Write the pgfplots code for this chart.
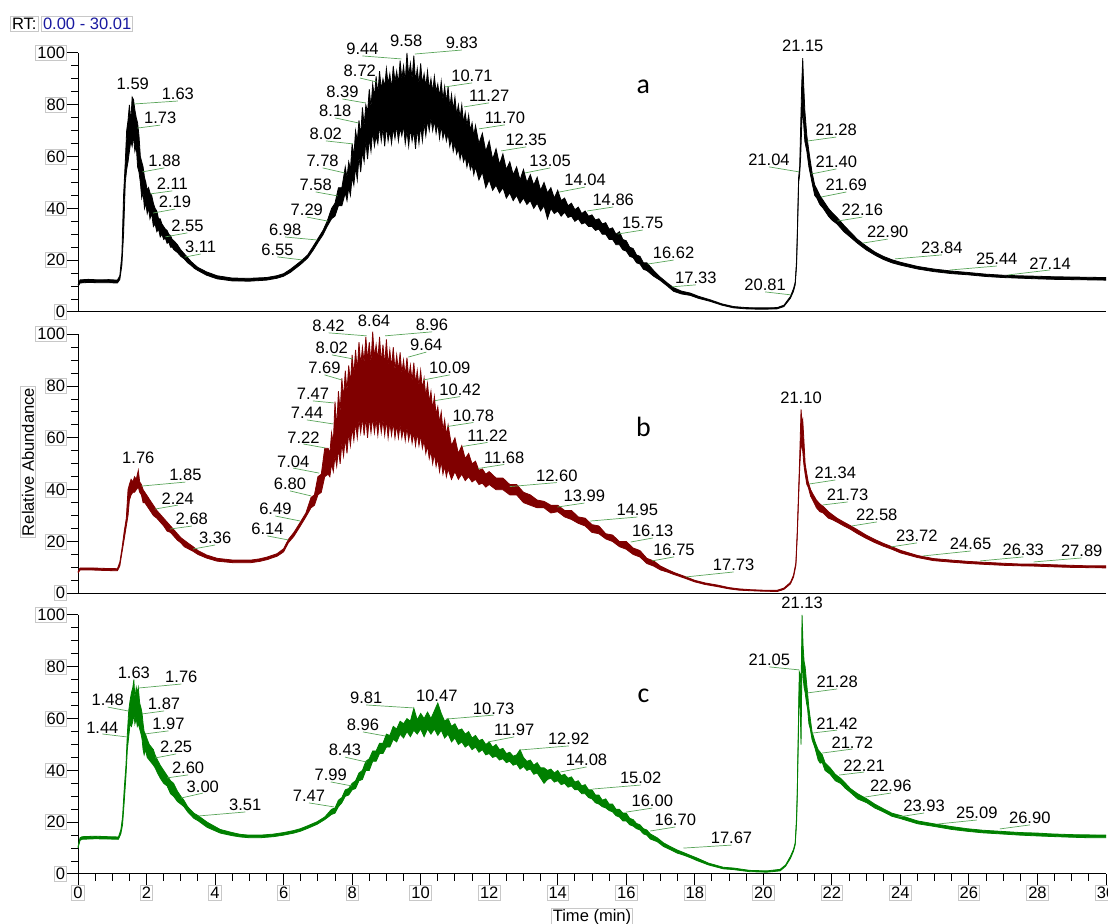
\documentclass[border=0pt]{standalone}
\usepackage{fontspec}
\setmainfont{Liberation Sans}
\newfontfamily\calibri{Carlito}
\usepackage{pgfplots}
\pgfplotsset{compat=1.18}
\usepackage{pgfplotstable}
\usepgfplotslibrary{fillbetween}

\definecolor{maroonc}{RGB}{128,0,0}
\definecolor{greenc}{RGB}{0,128,0}
\definecolor{leadc}{RGB}{90,165,90}
\definecolor{boxc}{RGB}{200,200,200}
\definecolor{rtblue}{RGB}{25,25,160}

\newcommand{\fs}{\fontsize{8.3}{9.5}\selectfont}
\tikzset{
 leader/.style={draw=leadc, line width=0.35bp},
 lbl/.style={anchor=south, inner sep=0.3bp, font=\fs, text=black},
}
\newcommand{\pk}[4]{\draw[leader] (axis cs:#1,#2) -- ++(#3bp,#4bp) node[lbl]{#1};}
\newcommand{\tp}[3]{\node[lbl] at (axis cs:#1,#2) {#3};}

\pgfplotsset{
 chrom/.style={
  scale only axis, width=514bp, height=129.5bp,
  xmin=0, xmax=30, ymin=0, ymax=100,
  axis x line*=bottom, axis y line*=left,
  axis line style={line width=0.5bp, black},
  ytick={0,20,40,60,80,100}, minor y tick num=3,
  tick align=outside,
  major tick length=5.5bp, minor tick length=3.3bp,
  tick style={line width=0.5bp, black},
  every tick label/.append style={font=\fs, draw=boxc, line width=0.4bp, inner sep=0.8bp, fill=white},
  /pgf/number format/assume math mode=true,
  clip=false,
 },
}

\pgfplotstableread{
x hi lo
0.00 10.4 9.8
0.06 12.4 11.2
0.3 12.6 11.4
0.6 12.4 11.3
0.9 12.5 11.3
1.15 12.3 11.2
1.22 14 12.5
1.28 22 18
1.33 45 30
1.38 58 50
1.42 70 55
1.46 74 58
1.50 80 62
1.54 73 66
1.58 83 64
1.62 82 68
1.66 78 62
1.70 75 64
1.74 73 56
1.78 68 54
1.82 60 50
1.86 58 44
1.90 56 46
1.94 52 40
1.98 50 42
2.02 47 38
2.06 48 40
2.10 46 36
2.15 45 38
2.20 42 33
2.25 40 34
2.30 39 31
2.35 36 32
2.40 36 29
2.45 34 30
2.50 33 28
2.55 32 28.5
2.60 31.5 26.5
2.65 30 27
2.70 29.5 25
2.75 28 25
2.8 27.5 24
2.9 26 23
3.0 24 21.5
3.1 22.5 20.5
3.2 21 19
3.3 19.5 18
3.4 18.3 16.8
3.5 17.2 16
3.75 15.5 14.2
4.06 14 12.8
4.5 13.1 12
5.0 13 11.9
5.5 13.3 12.3
5.8 14 13
6.0 14.8 13.8
6.2 16.5 15.3
6.5 19.6 18.4
6.7 22 20.8
6.87 25.5 24
7.0 28.3 26.8
7.15 31.5 29.8
7.27 35 33
7.4 40 36
7.5 42 37
7.6 48 41
7.7 48 41
7.80 56 46
7.85 52 43
7.90 58 48
7.95 55 45
8.00 65 52
8.05 60 49
8.10 70 56
8.15 66 51
8.20 74 60
8.25 68 54
8.30 79 62
8.35 72 58
8.40 80 66
8.45 77 59
8.50 86 67
8.55 79 62
8.60 88 70
8.65 83 64
8.70 91 68
8.75 84 65
8.80 93 72
8.85 86 66
8.90 90 71
8.95 87 64
9.00 94 72
9.05 88 66
9.10 92 70
9.15 86 65
9.20 95 71
9.25 89 67
9.30 93 72
9.35 88 66
9.40 97 71
9.45 90 68
9.50 95 72
9.55 89 65
9.60 100 70
9.65 91 64
9.70 96 71
9.75 90 66
9.80 99 70
9.85 89 63
9.90 94 71
9.95 88 65
10.00 96 72
10.05 88 66
10.10 92 73
10.15 87 68
10.20 93 74
10.25 86 70
10.30 90 75
10.35 85 70
10.40 91 74
10.45 85 69
10.50 88 73
10.55 83 67
10.60 89 72
10.65 82 67
10.70 87 70
10.75 81 66
10.80 87 69
10.85 79 64
10.90 84 67
10.95 78 62
11.00 83 65
11.05 76 61
11.10 80 63
11.15 75 59
11.20 80 62
11.25 73 58
11.30 77 60
11.35 72 56
11.40 76 59
11.45 70 55
11.50 73 57
11.55 68 53
11.60 72 56
11.7 65 51
11.8 69 54
11.9 62 48
12.0 66 51
12.1 59 47
12.2 63 49
12.3 57 46
12.4 61 48
12.5 55 44
12.6 58 46
12.7 53 43
12.8 56 45
12.9 51 42
13.0 55 44
13.1 50 41.5
13.2 53 43
13.3 49 40
13.4 52 42
13.5 47 39
13.6 50 41
13.7 46 36
13.8 48 40
13.9 44 38
14.0 47 39
14.1 43 37
14.2 44 38.5
14.3 41 36.5
14.4 42 37
14.5 39.5 35
14.6 40.5 36
14.7 38 34
14.8 39 34.5
14.9 37 33
15.0 37.5 33
15.1 35.5 31.5
15.2 36 32
15.3 34 30
15.4 34.5 30
15.5 32 28
15.6 32.5 28
15.7 30 26
15.8 31 26
15.9 28 24
16.0 27.5 23.5
16.1 25 21.5
16.2 24.5 21
16.3 22 19
16.4 21.5 18.5
16.5 19 16.5
16.6 19 16
16.8 16 13.8
16.99 13.5 12.2
17.2 11.2 10
17.38 9.4 8
17.6 8.1 7
17.87 7.3 6.4
18.1 6.1 5.3
18.45 4.7 4.1
18.8 3.1 2.6
19.13 2.1 1.6
19.5 1.7 1.2
19.8 1.6 1.1
20.1 1.6 1.1
20.4 1.7 1.2
20.6 2.6 2.1
20.79 6 5.3
20.88 9 8
20.93 11.5 10.5
20.97 20 18
21.0 35 33
21.03 52 50
21.06 56 53
21.09 72 60
21.12 88 72
21.15 98 80
21.17 90 74
21.21 78 66
21.27 68 62
21.33 62 56
21.42 54 50
21.5 49 45
21.56 47.5 44
21.65 45 41.5
21.75 43 40
21.9 40 37
22.0 38.5 35.5
22.15 36.5 34
22.35 33.5 31
22.53 31 29
22.75 28 26.5
23.0 25.5 24
23.25 23.2 22
23.5 21.5 20.3
23.75 20.2 19
24.0 19.2 18.1
24.5 17.6 16.6
24.97 16.6 15.6
25.5 15.8 14.8
25.94 15.3 14.4
26.5 14.6 13.7
27.0 14.2 13.3
27.4 14 13.1
28.0 13.8 12.8
28.5 13.6 12.6
29.0 13.5 12.5
29.5 13.4 12.4
30.0 13.3 12.3
}\tabA

\pgfplotstableread{
x hi lo
0 8.3 7.8
0.06 9.8 9
0.4 9.8 9
0.8 9.6 8.8
1.15 9.5 8.7
1.22 12 10.5
1.28 17 15.5
1.35 24 21
1.41 29 26
1.46 40 30
1.50 42 36
1.55 44 38
1.60 43 39
1.65 45 39
1.70 44 40
1.76 47.5 41
1.80 43 39
1.85 42 38
1.90 40 35
1.95 39 35
2.0 38 34
2.1 36 32
2.2 34 30
2.3 32 29
2.4 30.5 27.5
2.5 29 26
2.6 27.5 24
2.7 26 23.5
2.8 24.5 22
2.9 23 20.5
3.0 21.5 19.5
3.1 20.5 18
3.2 19.5 17.3
3.36 18 16.2
3.5 16.5 15
3.75 14.8 13.6
4.06 13.5 12.4
4.54 12.8 11.8
5.03 12.8 11.8
5.3 13.3 12.3
5.52 14 13
5.81 15.3 14.3
6.0 17.2 16
6.14 20.8 19.5
6.3 23.5 22
6.49 27.5 26
6.65 31 29.5
6.8 37 33
6.9 38 34
7.0 45 38
7.1 46 39
7.2 56 45
7.30 56 46
7.35 54 45
7.40 62 50
7.45 58 47
7.50 74 53
7.55 64 49
7.60 78 56
7.65 70 50
7.70 83 58
7.75 75 53
7.80 86 60
7.85 78 54
7.90 88 62
7.95 81 57
8.00 92 64
8.05 84 59
8.10 94 66
8.15 86 60
8.20 97 67
8.25 88 62
8.30 95 68
8.35 89 61
8.40 99 68
8.45 90 60
8.50 97 68
8.55 89 62
8.60 101 68
8.65 91 62
8.70 96 67
8.75 90 61
8.80 99 68
8.85 89 62
8.90 96 67
8.95 88 61
9.00 98 67
9.05 88 60
9.10 94 66
9.15 87 61
9.20 95 66
9.25 86 60
9.30 92 65
9.35 86 60
9.40 93 65
9.45 85 60
9.50 90 64
9.55 84 59
9.60 91 64
9.65 83 59
9.70 88 63
9.75 82 58
9.80 89 62
9.85 81 57
9.90 86 62
9.95 80 57
10.00 86 61
10.05 79 56
10.10 83 59
10.15 76 54
10.20 81 57
10.25 74 52
10.30 78 55
10.35 71 50
10.40 76 54
10.45 69 49
10.50 72 52
10.55 66 47
10.60 70 51
10.65 63 46
10.70 67 49
10.75 61 45
10.80 65 48
10.9 57 44
11.0 60 47
11.1 54 44
11.2 57 46
11.3 52 43.5
11.4 54 45
11.5 50 43
11.6 51 44
11.7 47.5 42
11.8 48 42.5
11.9 46 41
12.0 47 42
12.2 44.5 40
12.4 44.5 40
12.6 42 38
12.8 42 38
13.0 39 35
13.2 38 34
13.4 36 33
13.6 35.5 33
13.8 34 31
14.0 34 31.5
14.2 32 29.5
14.4 32 28.5
14.6 29.5 27
14.8 29 26
15.0 26.5 23.5
15.2 26 23
15.4 23 21
15.6 22.5 20
15.8 20 18
16.0 20 17
16.2 17.5 15
16.4 16.5 14
16.6 13.5 11.5
16.8 12.5 10.5
17.0 10.5 9
17.2 9.2 8.2
17.4 8 7.2
17.67 6.7 6
18.0 5 4.4
18.3 4 3.4
18.65 3.2 2.6
19.0 2.2 1.7
19.3 1.7 1.2
19.62 1.4 1.0
20.0 1.2 0.8
20.41 1.2 0.7
20.6 2 1.5
20.79 4.2 3.6
20.88 7 6.2
20.95 11.8 10.8
20.99 24 22
21.03 40 37
21.06 52 48
21.1 71 58
21.13 66 56
21.15 67 55
21.18 60 50
21.22 50 46
21.27 46 42
21.31 43 41
21.38 40 37.5
21.46 38 35.5
21.55 36 33
21.65 34.5 31.5
21.75 33.5 31
21.9 31.5 29
22.0 30.5 28.5
22.15 29 27.5
22.35 27.5 26
22.53 26.2 24.8
22.75 24.5 23
23.0 22.5 21.2
23.25 20.8 19.6
23.5 19.3 18.2
23.75 18 17
24.0 16.6 15.6
24.5 14.6 13.8
24.97 13.4 12.6
25.5 12.8 12
26.0 12.3 11.5
26.4 12 11.2
27.0 11.6 10.8
27.5 11.3 10.6
27.9 11.3 10.5
28.5 11 10.2
29.0 10.8 10
29.5 10.6 9.9
30.0 10.6 9.8
}\tabB

\pgfplotstableread{
x hi lo
0 10.5 10
0.06 14 13
0.12 14.4 13.4
0.5 14.6 13.6
0.9 14.4 13.5
1.18 14.3 13.4
1.25 17 15.5
1.3 22 19
1.35 33 28
1.40 42 38
1.44 54 48
1.48 63 53
1.52 67 58
1.56 70 57
1.60 72 59
1.63 75 62
1.66 68 58
1.70 72 60
1.73 70 57
1.76 72 58
1.80 66 56
1.84 64 54
1.87 62 52
1.90 58 48
1.93 55 46
1.97 54 48
2.02 52 45
2.08 50 44
2.14 49 43
2.2 48 42
2.25 46 41
2.32 44 39
2.4 42 37
2.5 40 35
2.6 38 34
2.7 36 31
2.79 35 30
2.9 32 28
3.0 30 27
3.09 28.5 26
3.2 26 24
3.38 23.5 21.5
3.51 22.5 20.5
3.77 20 18
4.15 17.2 15.8
4.5 16 14.8
4.74 15.3 14.3
5.0 15 14
5.32 15 14
5.7 15.4 14.4
6.0 16 15
6.3 16.8 15.8
6.49 17.5 16.5
6.7 18.6 17.6
6.98 20.2 19.2
7.2 22 21
7.4 25 23
7.5 25.5 23.5
7.6 28.5 26
7.7 29.5 27.5
7.8 32.5 30
7.9 33 30.5
8.0 35 32.5
8.1 36 33
8.2 39 36
8.3 40 36.5
8.4 43.5 40
8.5 44.5 40
8.6 47.5 43.5
8.7 47.5 43.5
8.8 50.5 46.5
8.9 50.5 46.5
9.0 54 49
9.1 53.5 49
9.2 57 52
9.3 56 51
9.4 59 54
9.5 58 52.5
9.6 60 55
9.7 59 53
9.8 64 55.5
9.9 59.5 54
10.0 62 56
10.1 60 53
10.2 62.5 56
10.3 60 54
10.4 63 56
10.5 66 53.5
10.6 62 55.5
10.7 59 52.5
10.8 60 54
10.9 57 51
11.0 58 52.5
11.1 55.5 50
11.2 56 51
11.3 54 49
11.4 55 50
11.5 52.5 48
11.6 53.5 49
11.7 51.5 47
11.8 52 48
11.9 50 46
12.0 51 46.5
12.1 49 45
12.2 50 45.5
12.3 48 44
12.4 48.5 44.5
12.5 46.5 43
12.6 47 43.5
12.7 45.5 42
12.8 46 42.5
12.9 48 40.5
13.0 45 41.5
13.1 43.5 40
13.2 44 40.5
13.3 42 38.5
13.4 43 39
13.5 41 37
13.6 41 35
13.7 40 36.5
13.8 40.5 37
13.9 39 35.5
14.0 40 36
14.1 38 34.5
14.2 38.5 35
14.3 37 33.5
14.4 37.5 34
14.5 35.5 32.5
14.6 36 32.5
14.7 34 31
14.8 34.5 31
14.9 32.5 29.5
15.0 32.5 29
15.1 30.5 27.5
15.2 30.5 27
15.3 28.5 26
15.4 29 25.5
15.5 27 24.5
15.6 27 24
15.7 25 22.5
15.8 25 22
15.9 23.5 20.5
16.0 23.5 20.5
16.1 21.5 19
16.2 21 18.5
16.3 19.5 17.5
16.4 19 17
16.5 17.5 15.5
16.6 17 15
16.7 15.5 13.5
16.9 14 12.5
17.09 12 10.6
17.3 10.5 9.3
17.48 9.3 8.1
17.67 8.3 7.3
17.87 7.2 6.3
18.06 6.2 5.2
18.4 4.2 3.5
18.83 2.6 2
19.13 2.3 1.7
19.6 1.4 0.9
20.1 1.2 0.7
20.49 1.8 1.2
20.65 3.5 3
20.79 6.8 6
20.88 9.5 8.8
20.93 12 11.3
20.97 22 20
20.99 32 30
21.02 55 52
21.05 78 74
21.08 77 62
21.10 70 50
21.13 100 85
21.16 88 76
21.19 82 72
21.22 80 70
21.26 74 66
21.29 70 64
21.33 64 58
21.37 60 56
21.42 55 52
21.51 51 48.5
21.6 48 44
21.66 47 42.8
21.72 46 43
21.8 43 40
21.95 41 38.5
22.1 38.5 36
22.25 37 35
22.4 35 33
22.54 33 31.5
22.75 31 29
23.02 29 27.5
23.25 27 25.5
23.5 25.2 24
23.75 23.5 22.3
24.0 22.6 21.4
24.5 20.5 19.4
24.97 19.4 18.4
25.5 18.3 17.2
25.94 17.5 16.5
26.4 16.9 15.9
26.9 16.5 15.5
27.5 16 15
28.0 15.8 14.7
28.37 15.5 14.5
29.0 15.2 14.2
29.5 15.1 14
30.0 15 14
}\tabC

\begin{document}
\begin{tikzpicture}
% ---------------- panel a ----------------
\begin{axis}[chrom, at={(39bp,306bp)}, anchor=south west, xtick=\empty]
\addplot[name path=ahi, draw=black, line width=0.4bp] table[x=x,y=hi]{\tabA};
\addplot[name path=alo, draw=black, line width=0.4bp] table[x=x,y=lo]{\tabA};
\addplot[black] fill between[of=ahi and alo];
\tp{1.60}{85.3}{1.59}
\pk{1.63}{80.3}{22}{1.5}
\pk{1.73}{71.0}{11.5}{1.5}
\pk{1.88}{54.1}{11}{2}
\pk{2.11}{45.6}{11}{1.5}
\pk{2.19}{38.2}{11}{2}
\pk{2.55}{29.0}{11}{2}
\pk{3.11}{21.2}{8}{1.5}
\pk{6.55}{20.1}{-12.5}{1.5}
\pk{6.98}{27.8}{-16}{1.5}
\pk{7.29}{35.1}{-10.5}{2}
\pk{7.58}{44.8}{-11}{2}
\pk{7.78}{53.7}{-11}{2.5}
\pk{8.02}{64.9}{-13.5}{1.5}
\pk{8.18}{73.0}{-11.5}{2.5}
\pk{8.39}{80.7}{-11.5}{2}
\pk{8.72}{88.8}{-8.5}{2}
\pk{9.44}{97.7}{-19.5}{1.5}
\tp{9.58}{101.9}{9.58}
\pk{9.83}{99.6}{23.5}{2}
\pk{10.71}{86.9}{13.5}{2}
\pk{11.27}{79.2}{12.5}{2}
\pk{11.70}{70.7}{13}{2}
\pk{12.35}{62.2}{12.5}{2}
\pk{13.05}{53.7}{12.5}{2.5}
\pk{14.04}{46.3}{13}{2.5}
\pk{14.86}{39.0}{13}{2}
\pk{15.75}{30.1}{12.5}{2}
\pk{16.62}{18.5}{13}{2}
\pk{17.33}{9.7}{12}{1}
\pk{20.81}{6.6}{-13}{1.5}
\pk{21.04}{54.1}{-15}{2.5}
\tp{21.15}{100}{21.15}
\pk{21.28}{66.0}{14.5}{2}
\pk{21.40}{53.3}{12.5}{2.5}
\pk{21.69}{44.4}{12.5}{2.5}
\pk{22.16}{35.1}{12.5}{2}
\pk{22.90}{26.6}{12.5}{2}
\pk{23.84}{20.5}{23.5}{2}
\pk{25.44}{16.2}{23.5}{2}
\pk{27.14}{14.3}{21}{2.5}
\node[font={\calibri\fontsize{14}{14}\selectfont}] at (axis cs:16.5,86.9) {a};
\end{axis}
% ---------------- panel b ----------------
\begin{axis}[chrom, at={(39bp,165.35bp)}, anchor=south west, xtick=\empty]
\addplot[name path=bhi, draw=maroonc, line width=0.4bp] table[x=x,y=hi]{\tabB};
\addplot[name path=blo, draw=maroonc, line width=0.4bp] table[x=x,y=lo]{\tabB};
\addplot[maroonc] fill between[of=bhi and blo];
\tp{1.76}{49.5}{1.76}
\pk{1.85}{41.4}{22}{2}
\pk{2.24}{32.5}{11.5}{2}
\pk{2.68}{24.8}{11}{1.5}
\pk{3.36}{17.1}{11}{2}
\pk{6.14}{20.6}{-10.5}{2}
\pk{6.49}{27.9}{-12.5}{2.5}
\pk{6.80}{37.6}{-10.5}{2.5}
\pk{7.04}{46.4}{-13}{2.5}
\pk{7.22}{56.1}{-11}{2}
\pk{7.44}{65.4}{-13}{2}
\pk{7.47}{73.5}{-10.5}{1}
\pk{7.69}{82.4}{-8.5}{2.5}
\pk{8.02}{90.5}{-10.5}{2}
\pk{8.42}{99.4}{-19}{1.5}
\tp{8.64}{102.4}{8.64}
\pk{8.96}{99.4}{23.5}{2}
\pk{9.64}{91.2}{9}{2.5}
\pk{10.09}{82.4}{13}{2.5}
\pk{10.42}{74.4}{12.5}{2}
\pk{10.78}{64.4}{13}{2}
\pk{11.22}{56.7}{12.5}{2}
\pk{11.68}{48.2}{13}{2}
\pk{12.60}{41.2}{23.5}{2}
\pk{13.99}{33.3}{13.5}{2}
\pk{14.95}{27.9}{23.5}{2}
\pk{16.13}{19.8}{11}{2}
\pk{16.75}{12.5}{11}{2}
\pk{17.73}{6.3}{24}{2.5}
\tp{21.10}{72.7}{21.10}
\pk{21.34}{42.2}{13}{2}
\pk{21.73}{34.1}{12.5}{1.5}
\pk{22.58}{26.0}{12.5}{2}
\pk{23.72}{17.9}{13}{2}
\pk{24.65}{14.4}{24}{2.5}
\pk{26.33}{12.5}{21.5}{2}
\pk{27.89}{12.1}{24}{2}
\node[font={\calibri\fontsize{14}{14}\selectfont}] at (axis cs:16.5,64.2) {b};
\end{axis}
% ---------------- panel c ----------------
\begin{axis}[chrom, at={(39bp,25bp)}, anchor=south west,
  xtick={0,2,...,30}, minor x tick num=3]
\addplot[name path=chi, draw=greenc, line width=0.4bp] table[x=x,y=hi]{\tabC};
\addplot[name path=clo, draw=greenc, line width=0.4bp] table[x=x,y=lo]{\tabC};
\addplot[greenc] fill between[of=chi and clo];
\tp{1.63}{74.9}{1.63}
\pk{1.76}{71.8}{21.5}{2}
\pk{1.48}{62.9}{-10.5}{2}
\pk{1.44}{52.9}{-12.5}{1.5}
\pk{1.87}{61.8}{11}{1.5}
\pk{1.97}{54.1}{11.5}{1.5}
\pk{2.25}{44.8}{10.5}{2}
\pk{2.60}{37.1}{10.5}{1.5}
\pk{3.00}{29.3}{11}{2.5}
\pk{3.51}{22.4}{23.5}{2}
\pk{7.47}{25.9}{-12.5}{2}
\pk{7.99}{34.0}{-10.5}{2}
\pk{8.43}{43.2}{-11}{2.5}
\pk{8.96}{53.3}{-11}{2}
\pk{9.81}{64.1}{-24}{1.5}
\tp{10.47}{66.0}{10.47}
\pk{10.73}{59.8}{24}{2}
\pk{11.97}{51.0}{13}{2.5}
\pk{12.92}{47.9}{24}{2}
\pk{14.08}{39.4}{13}{2.5}
\pk{15.02}{32.8}{24}{2}
\pk{16.00}{23.9}{13}{2}
\pk{16.70}{16.6}{12.5}{2}
\pk{17.67}{10.0}{24}{1.5}
\pk{21.05}{78.8}{-15}{1.5}
\tp{21.13}{101.9}{21.13}
\pk{21.28}{69.9}{15}{2}
\pk{21.42}{54.4}{12.5}{1.5}
\pk{21.72}{46.7}{15}{2}
\pk{22.21}{38.2}{12.5}{1.5}
\pk{22.96}{29.7}{13}{2}
\pk{23.93}{22.0}{13}{2}
\pk{25.09}{19.3}{19.5}{2}
\pk{26.90}{17.4}{15}{2}
\node[font={\calibri\fontsize{14}{14}\selectfont}] at (axis cs:16.5,68.7) {c};
\end{axis}
% ---------------- frame texts ----------------
\node[draw=boxc, line width=0.4bp, inner sep=0.8bp, font=\fs, anchor=west] at (5bp,450bp) {RT:};
\node[draw=boxc, line width=0.4bp, inner sep=0.8bp, font=\fs, anchor=west, text=rtblue] at (20.5bp,450bp) {0.00 - 30.01};
\node[draw=boxc, line width=0.4bp, inner sep=0.8bp, font=\fs, rotate=90] at (14bp,231bp) {Relative Abundance};
\node[draw=boxc, line width=0.4bp, inner sep=0.8bp, font=\fs, anchor=north] at (296bp,8bp) {Time (min)};
\pgfresetboundingbox
\useasboundingbox (0,0) rectangle (554bp,462bp);
\end{tikzpicture}
\end{document}
